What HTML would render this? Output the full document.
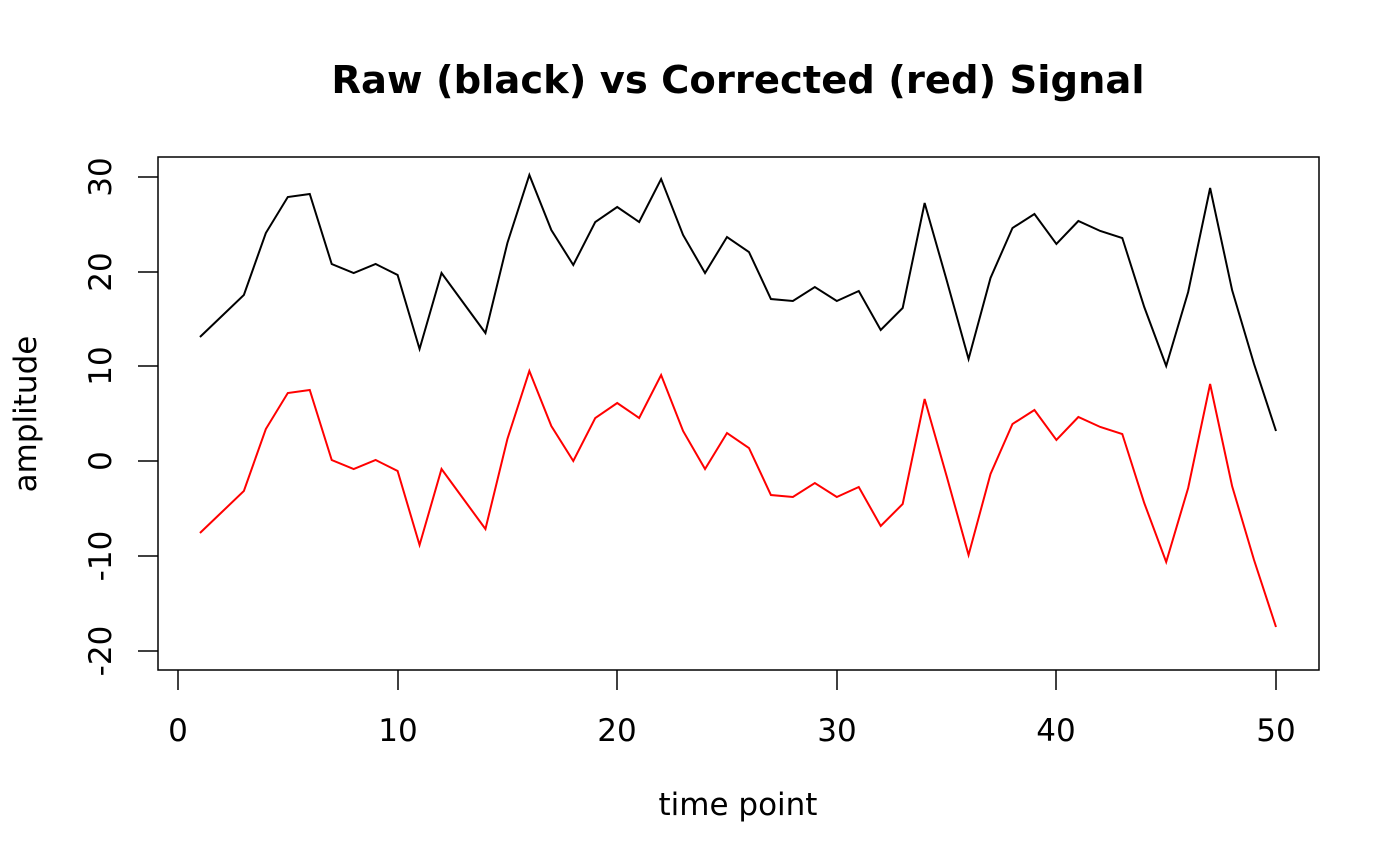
<!DOCTYPE html>
<html><head><style>body{margin:0;background:#fff}svg{display:block}</style></head><body>
<svg width="1400" height="866" xmlns="http://www.w3.org/2000/svg" font-family="'DejaVu Sans','Liberation Sans',sans-serif">
<defs>
<polyline id="s" fill="none" stroke-width="2" points="199.96,337 221.92,316 243.88,295 265.84,233 287.8,197 309.76,194 331.72,264 353.68,273 375.64,264 397.6,275 419.56,349 441.52,273 463.48,303 485.44,333 507.4,243 529.36,175 551.32,230 573.28,265 595.24,222 617.2,207 639.16,222 661.12,179 683.08,235 705.04,273 727,237 748.96,252 770.92,299 792.88,301 814.84,287 836.8,301 858.76,291 880.72,330 902.68,308 924.64,203 946.6,280 968.56,359 990.52,278 1012.48,228 1034.44,214 1056.4,244 1078.36,221 1100.32,231 1122.28,238 1144.24,307 1166.2,366 1188.16,292 1210.12,188 1232.08,290 1254.04,364 1276,431"/>
</defs>
<text x="738" y="93" text-anchor="middle" font-size="38.5" font-weight="bold">Raw (black) vs Corrected (red) Signal</text>
<rect x="158" y="157" width="1161" height="513" fill="none" stroke="#000" stroke-width="1.5"/>
<use href="#s" stroke="#000"/>
<use href="#s" stroke="#f00" transform="translate(0,196)"/>
<g stroke="#000" stroke-width="1.5">
<line x1="178" y1="670" x2="178" y2="690"/><line x1="398" y1="670" x2="398" y2="690"/><line x1="617" y1="670" x2="617" y2="690"/><line x1="837" y1="670" x2="837" y2="690"/><line x1="1056" y1="670" x2="1056" y2="690"/><line x1="1276" y1="670" x2="1276" y2="690"/>
<line x1="158" y1="177" x2="138" y2="177"/><line x1="158" y1="272" x2="138" y2="272"/><line x1="158" y1="366" x2="138" y2="366"/><line x1="158" y1="461" x2="138" y2="461"/><line x1="158" y1="556" x2="138" y2="556"/><line x1="158" y1="651" x2="138" y2="651"/>
</g>
<g font-size="31" text-anchor="middle">
<text x="178" y="741">0</text><text x="398" y="741">10</text><text x="617" y="741">20</text><text x="837" y="741">30</text><text x="1056" y="741">40</text><text x="1276" y="741">50</text>
<text x="738" y="815">time point</text>
<text transform="translate(111,177) rotate(-90)">30</text>
<text transform="translate(111,272) rotate(-90)">20</text>
<text transform="translate(111,366) rotate(-90)">10</text>
<text transform="translate(111,461) rotate(-90)">0</text>
<text transform="translate(111,556) rotate(-90)">-10</text>
<text transform="translate(111,651) rotate(-90)">-20</text>
<text transform="translate(36,414) rotate(-90)">amplitude</text>
</g>
</svg>
</body></html>
